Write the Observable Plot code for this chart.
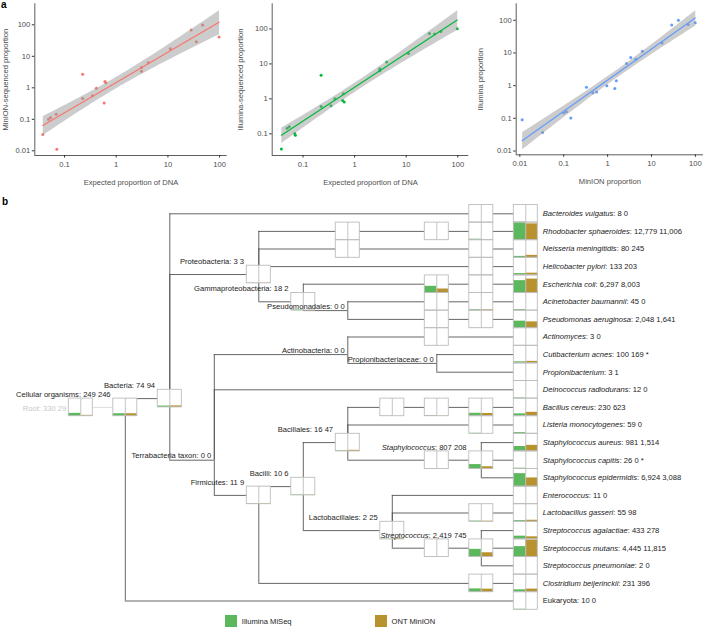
<!DOCTYPE html>
<html><head><meta charset="utf-8">
<script src="https://cdn.jsdelivr.net/npm/d3@7"></script>
<script src="https://cdn.jsdelivr.net/npm/@observablehq/plot@0.6"></script>
<style>
body{margin:0;background:#fff;font-family:Arial,"Liberation Sans",sans-serif;}
#wrap{position:relative;width:704px;height:628px;overflow:hidden;background:#fff;}
.panel{position:absolute;}
.tag{position:absolute;font-weight:bold;font-size:10px;line-height:10px;color:#000;}
.leg{position:absolute;font-size:7.6px;color:#222;display:flex;align-items:center;}
.leg span.sw{display:inline-block;width:12px;height:12px;margin-right:4.5px;}
</style></head><body><div id="wrap"></div>
<script>
// ---------- Panel a data (proportions, %) ----------
const expectedProp = [0.038, 0.049, 0.054, 0.069, 0.071, 0.224, 0.224, 0.348, 0.413, 0.585, 0.605, 0.63, 3.08, 3.08, 4.17, 11.1, 28.2, 35.5, 47, 97.5];
const minionProp   = [0.033, 0.10, 0.115, 0.145, 0.0113, 2.7, 0.46, 0.56, 0.96, 0.33, 1.58, 1.46, 3.36, 4.4, 6.2, 17.4, 68.5, 28.9, 99, 41];
const illuminaProp = [0.037, 0.145, 0.16, 0.103, 0.091, 4.75, 0.61, 0.64, 1.0, 0.9, 1.4, 0.82, 7.25, 6.4, 11.3, 20, 74, 72, 84, 101];
const tickValues = [0.01, 0.1, 1, 10, 100];

// ---------- Panel b data (taxonomy tree, read counts) ----------
// id, name, parent, depth (column), order (row), rank, Illumina reads, MinION reads, note
const taxa = [
 ["root","Root",null,0,11,"root",330,29],
 ["cell","Cellular organisms","root",1,11,"no rank",249,246],
 ["bact","Bacteria","cell",2,10.5,"superkingdom",74,94],
 ["bv1","","bact",9,0,"genus",1,0],
 ["bv","Bacteroides vulgatus","bv1",10,0,"species",8,0],
 ["prot","Proteobacteria","bact",4,3.45,"phylum",3,3],
 ["rs1","","prot",6,1,"class",1,0],
 ["rs2","","rs1",8,1,"family",1,1],
 ["rs3","","rs2",9,1,"genus",40,3],
 ["rs","Rhodobacter sphaeroides","rs3",10,1,"species",12779,11006],
 ["nm1","","prot",6,2,"class",1,0],
 ["nm2","","nm1",9,2,"genus",2,1],
 ["nm","Neisseria meningitidis","nm2",10,2,"species",80,245],
 ["hp1","","prot",9,3,"genus",1,1],
 ["hp","Helicobacter pylori","hp1",10,3,"species",133,203],
 ["gam","Gammaproteobacteria","prot",5,5,"class",18,2],
 ["ec1","","gam",8,4,"family",1850,660],
 ["ec2","","ec1",9,4,"genus",2,1],
 ["ec","Escherichia coli","ec2",10,4,"species",6297,8003],
 ["psd","Pseudomonadales","gam",6,5.5,"order",0,0],
 ["ab1","","psd",8,5,"family",1,0],
 ["ab2","","ab1",9,5,"genus",35,25],
 ["ab","Acinetobacter baumannii","ab2",10,5,"species",45,0],
 ["pa1","","psd",8,6,"family",1,0],
 ["pa2","","pa1",9,6,"genus",2,1],
 ["pa","Pseudomonas aeruginosa","pa2",10,6,"species",2048,1641],
 ["ter","Terrabacteria taxon","bact",3,14,"clade",0,0],
 ["act","Actinobacteria","ter",6,8,"phylum",0,0],
 ["am1","","act",8,7,"family",1,0],
 ["am","Actinomyces","am1",10,7,"genus",3,0],
 ["prf","Propionibacteriaceae","act",8,8.5,"family",0,0],
 ["ca","Cutibacterium acnes","prf",10,8,"species",100,169,"*"],
 ["pr","Propionibacterium","prf",10,9,"genus",3,1],
 ["dr","Deinococcus radiodurans","ter",10,10,"species",12,0],
 ["fir","Firmicutes","ter",4,16,"phylum",11,9],
 ["bcl","Bacilli","fir",5,15.5,"class",10,6],
 ["bcs","Bacillales","bcl",6,13,"order",16,47],
 ["bc1","","bcs",7,11,"family",1,0],
 ["bc2","","bc1",8,11,"family",20,2],
 ["bc3","","bc2",9,11,"genus",350,300],
 ["bc","Bacillus cereus","bc3",10,11,"species",230,623],
 ["lm1","","bcs",9,12,"genus",10,0],
 ["lm","Listeria monocytogenes","lm1",10,12,"species",59,0],
 ["st1","","bcs",8,14,"family",2,1],
 ["sta","Staphylococcus","st1",9,14,"genus",807,208],
 ["sau","Staphylococcus aureus","sta",10,13,"species",981,1514],
 ["sca","Staphylococcus capitis","sta",10,14,"species",26,0,"*"],
 ["sep","Staphylococcus epidermidis","sta",10,15,"species",6924,3088],
 ["lac","Lactobacillales","bcl",7,18,"order",2,25],
 ["ent","Enterococcus","lac",10,16,"genus",11,0],
 ["lg1","","lac",9,17,"genus",20,15],
 ["lg","Lactobacillus gasseri","lg1",10,17,"species",55,98],
 ["sc1","","lac",8,19,"family",2,1],
 ["str","Streptococcus","sc1",9,19,"genus",2419,745],
 ["sag","Streptococcus agalactiae","str",10,18,"species",433,278],
 ["smu","Streptococcus mutans","str",10,19,"species",4445,11815],
 ["spn","Streptococcus pneumoniae","str",10,20,"species",2,0],
 ["cb1","","fir",9,21,"genus",450,380],
 ["cb","Clostridium beijerinckii","cb1",10,21,"species",231,396],
 ["euk","Eukaryota","cell",10,22,"superkingdom",10,0]
];
const platforms = ["Illumina MiSeq", "ONT MinION"];
const platformColors = ["#5cb85c", "#b8922f"];

// ---------- build ----------
const FONT = 'Arial, "Liberation Sans", sans-serif';
const wrap = document.getElementById("wrap");
function place(el, left, top){ const d=document.createElement("div"); d.className="panel"; d.style.left=left+"px"; d.style.top=top+"px"; d.appendChild(el); wrap.appendChild(d); return d; }
function tag(txt,left,top){ const d=document.createElement("div"); d.className="tag"; d.textContent=txt; d.style.left=left+"px"; d.style.top=top+"px"; wrap.appendChild(d); }
const fmtTick = d => { const v = Math.pow(10, d); return v >= 1 ? String(Math.round(v)) : String(+v.toFixed(2)); };
const lg = tickValues.map(Math.log10);

function scatter(o){
  const data = o.xs.map((x,i)=>({x: Math.log10(x), y: Math.log10(o.ys[i])}));
  return Plot.plot({
    width: o.w, height: 195, marginLeft: o.mL, marginRight: o.mR, marginTop: 3.3, marginBottom: o.mB,
    style: {fontFamily: FONT, fontSize: "7.6px", color: "#333", background: "transparent", overflow: "visible"},
    x: {domain: o.xd}, y: {domain: o.yd},
    marks: [
      Plot.dot(data, {x:"x", y:"y", r:1.5, fill:o.color}),
      Plot.linearRegressionY(data, {x:"x", y:"y", fill:"#999", fillOpacity:0.5, stroke:"none"}),
      Plot.linearRegressionY(data, {x:"x", y:"y", ci:0, stroke:o.color, strokeWidth:1.2}),
      Plot.ruleX([o.xd[0]], {stroke:"#333", strokeWidth:0.8}),
      Plot.ruleY([o.yd[0]], {stroke:"#333", strokeWidth:0.8}),
      Plot.axisX({ticks: lg.filter(t=>t>=o.xd[0]&&t<=o.xd[1]), tickFormat: fmtTick, tickSize: 2.5, tickPadding: 3.5, fill:"#4d4d4d", label: o.xl, labelAnchor:"center", labelOffset: 29, labelArrow:"none"}),
      Plot.axisY({ticks: lg.filter(t=>t>=o.yd[0]&&t<=o.yd[1]), tickFormat: fmtTick, tickSize: 2.5, tickPadding: 2, fill:"#4d4d4d", label: o.yl, labelAnchor:"center", labelOffset: o.lo, labelArrow:"none"})
    ]
  });
}
place(scatter({xs:expectedProp, ys:minionProp, color:"#F8766D", w:235, mL:34.3, mR:8.3, mB:40, xd:[-1.575,2.147], yd:[-2.149,2.667], xl:"Expected proportion of DNA", yl:"MinION-sequenced proportion", lo:32.5}), 0, 0);
place(scatter({xs:expectedProp, ys:illuminaProp, color:"#00BA38", w:235, mL:36.7, mR:1.7, mB:40, xd:[-1.598,2.214], yd:[-1.62,2.72], xl:"Expected proportion of DNA", yl:"Illumina-sequenced proportion", lo:35}), 235, 0);
place(scatter({xs:minionProp, ys:illuminaProp, color:"#619CFF", w:234, mL:45.7, mR:1, mB:40.7, xd:[-2.082,2.184], yd:[-2.116,2.504], xl:"MinION proportion", yl:"Illumina proportion", lo:39}), 470, 0);
tag("a", 1, 0);
tag("b", 2, 197);

// tree
const nodes = taxa.map(([id,name,parent,depth,order,rank,ill,ont,note])=>({id,name,parent,depth,order,rank,ill,ont,note}));
const byId = new Map(nodes.map(d=>[d.id,d]));
const hasKids = new Set(nodes.map(d=>d.parent).filter(Boolean));
const links = nodes.filter(d=>d.parent).map(d=>({p:byId.get(d.parent), c:d}));
const rootLinks = links.filter(l=>l.p.parent===null), otherLinks = links.filter(l=>l.p.parent!==null);
const boxed = nodes.filter(d=>d.ill+d.ont>0);
const maxReads = d3.max(nodes, d=>Math.max(d.ill,d.ont));
const bar = c => Math.sqrt(c/maxReads);
const fmtN = d3.format(",");
const label = d => `${d.name}: ${fmtN(d.ill)} ${fmtN(d.ont)}${d.note ? " " + d.note : ""}`;
const leaves = nodes.filter(d=>!hasKids.has(d.id));
const inner = nodes.filter(d=>hasKids.has(d.id) && d.name && d.parent);
const innerBoxed = inner.filter(d=>d.ill+d.ont>0), innerBare = inner.filter(d=>d.ill+d.ont===0);
const rootNode = nodes.filter(d=>d.parent===null);
const LINE = "#555", BOX = "#bdbdbd";
const tree = Plot.plot({
  width: 704, height: 418,
  style: {fontFamily: FONT, fontSize: "7.6px", color: "#222", background: "transparent", overflow: "visible"},
  x: {domain:[0,10], range:[80.3,525.3], axis:null},
  y: {domain:[0,22], range:[18.3,405.5], axis:null},
  marks: [
    Plot.ruleX(otherLinks, {x:l=>l.p.depth, y1:l=>l.p.order, y2:l=>l.c.order, stroke:LINE, strokeWidth:0.9}),
    Plot.ruleY(otherLinks, {y:l=>l.c.order, x1:l=>l.p.depth, x2:l=>l.c.depth, stroke:LINE, strokeWidth:0.9}),
    Plot.ruleY(rootLinks, {y:l=>l.c.order, x1:l=>l.p.depth, x2:l=>l.c.depth, stroke:"#d9d9d9", strokeWidth:0.9}),
    Plot.rect(boxed, {x1:"depth", x2:"depth", y1:d=>d.order-0.5, y2:d=>d.order+0.5, insetLeft:-12, insetRight:-12, fill:"white"}),
    Plot.rect(boxed, {x1:"depth", x2:"depth", y1:d=>d.order+0.5, y2:d=>d.order+0.5-bar(d.ill), insetLeft:-12, insetRight:0, fill:platformColors[0]}),
    Plot.rect(boxed, {x1:"depth", x2:"depth", y1:d=>d.order+0.5, y2:d=>d.order+0.5-bar(d.ont), insetLeft:0, insetRight:-12, fill:platformColors[1]}),
    Plot.rect(boxed, {x1:"depth", x2:"depth", y1:d=>d.order-0.5, y2:d=>d.order+0.5, insetLeft:-12, insetRight:-12, fill:"none", stroke:BOX, strokeWidth:0.9}),
    Plot.ruleX(boxed, {x:"depth", y1:d=>d.order-0.5, y2:d=>d.order+0.5, stroke:BOX, strokeWidth:0.9}),
    Plot.text(leaves, {x:"depth", y:"order", text:label, textAnchor:"start", dx:17, fill:"#222"}),
    Plot.text(innerBoxed, {x:"depth", y:"order", text:label, textAnchor:"end", dx:-14.7, dy:-12.8, fill:"#222"}),
    Plot.text(innerBare, {x:"depth", y:"order", text:label, textAnchor:"end", dx:-3, dy:-4.3, fill:"#222"}),
    Plot.text(rootNode, {x:"depth", y:"order", text:label, textAnchor:"end", dx:-14.5, dy:1, fill:"#c8c8c8"})
  ]
});
// italicise genus / species names
const labelMap = new Map(nodes.filter(d=>d.name).map(d=>[label(d), d]));
const NS = "http://www.w3.org/2000/svg";
tree.querySelectorAll("text").forEach(t=>{
  const d = labelMap.get(t.textContent);
  if (!d || !(d.rank==="species"||d.rank==="genus")) return;
  const rest = t.textContent.slice(d.name.length);
  t.textContent = "";
  const a = document.createElementNS(NS,"tspan"); a.setAttribute("font-style","italic"); a.textContent = d.name;
  const b = document.createElementNS(NS,"tspan"); b.textContent = rest;
  t.append(a,b);
});
place(tree, 0, 195);

// legend
[[225.3,0],[375,1]].forEach(([left,i])=>{
  const d=document.createElement("div"); d.className="leg"; d.style.left=left+"px"; d.style.top="615px";
  d.innerHTML=`<span class="sw" style="background:${platformColors[i]}"></span><span>${platforms[i]}</span>`;
  wrap.appendChild(d);
});
</script></body></html>
